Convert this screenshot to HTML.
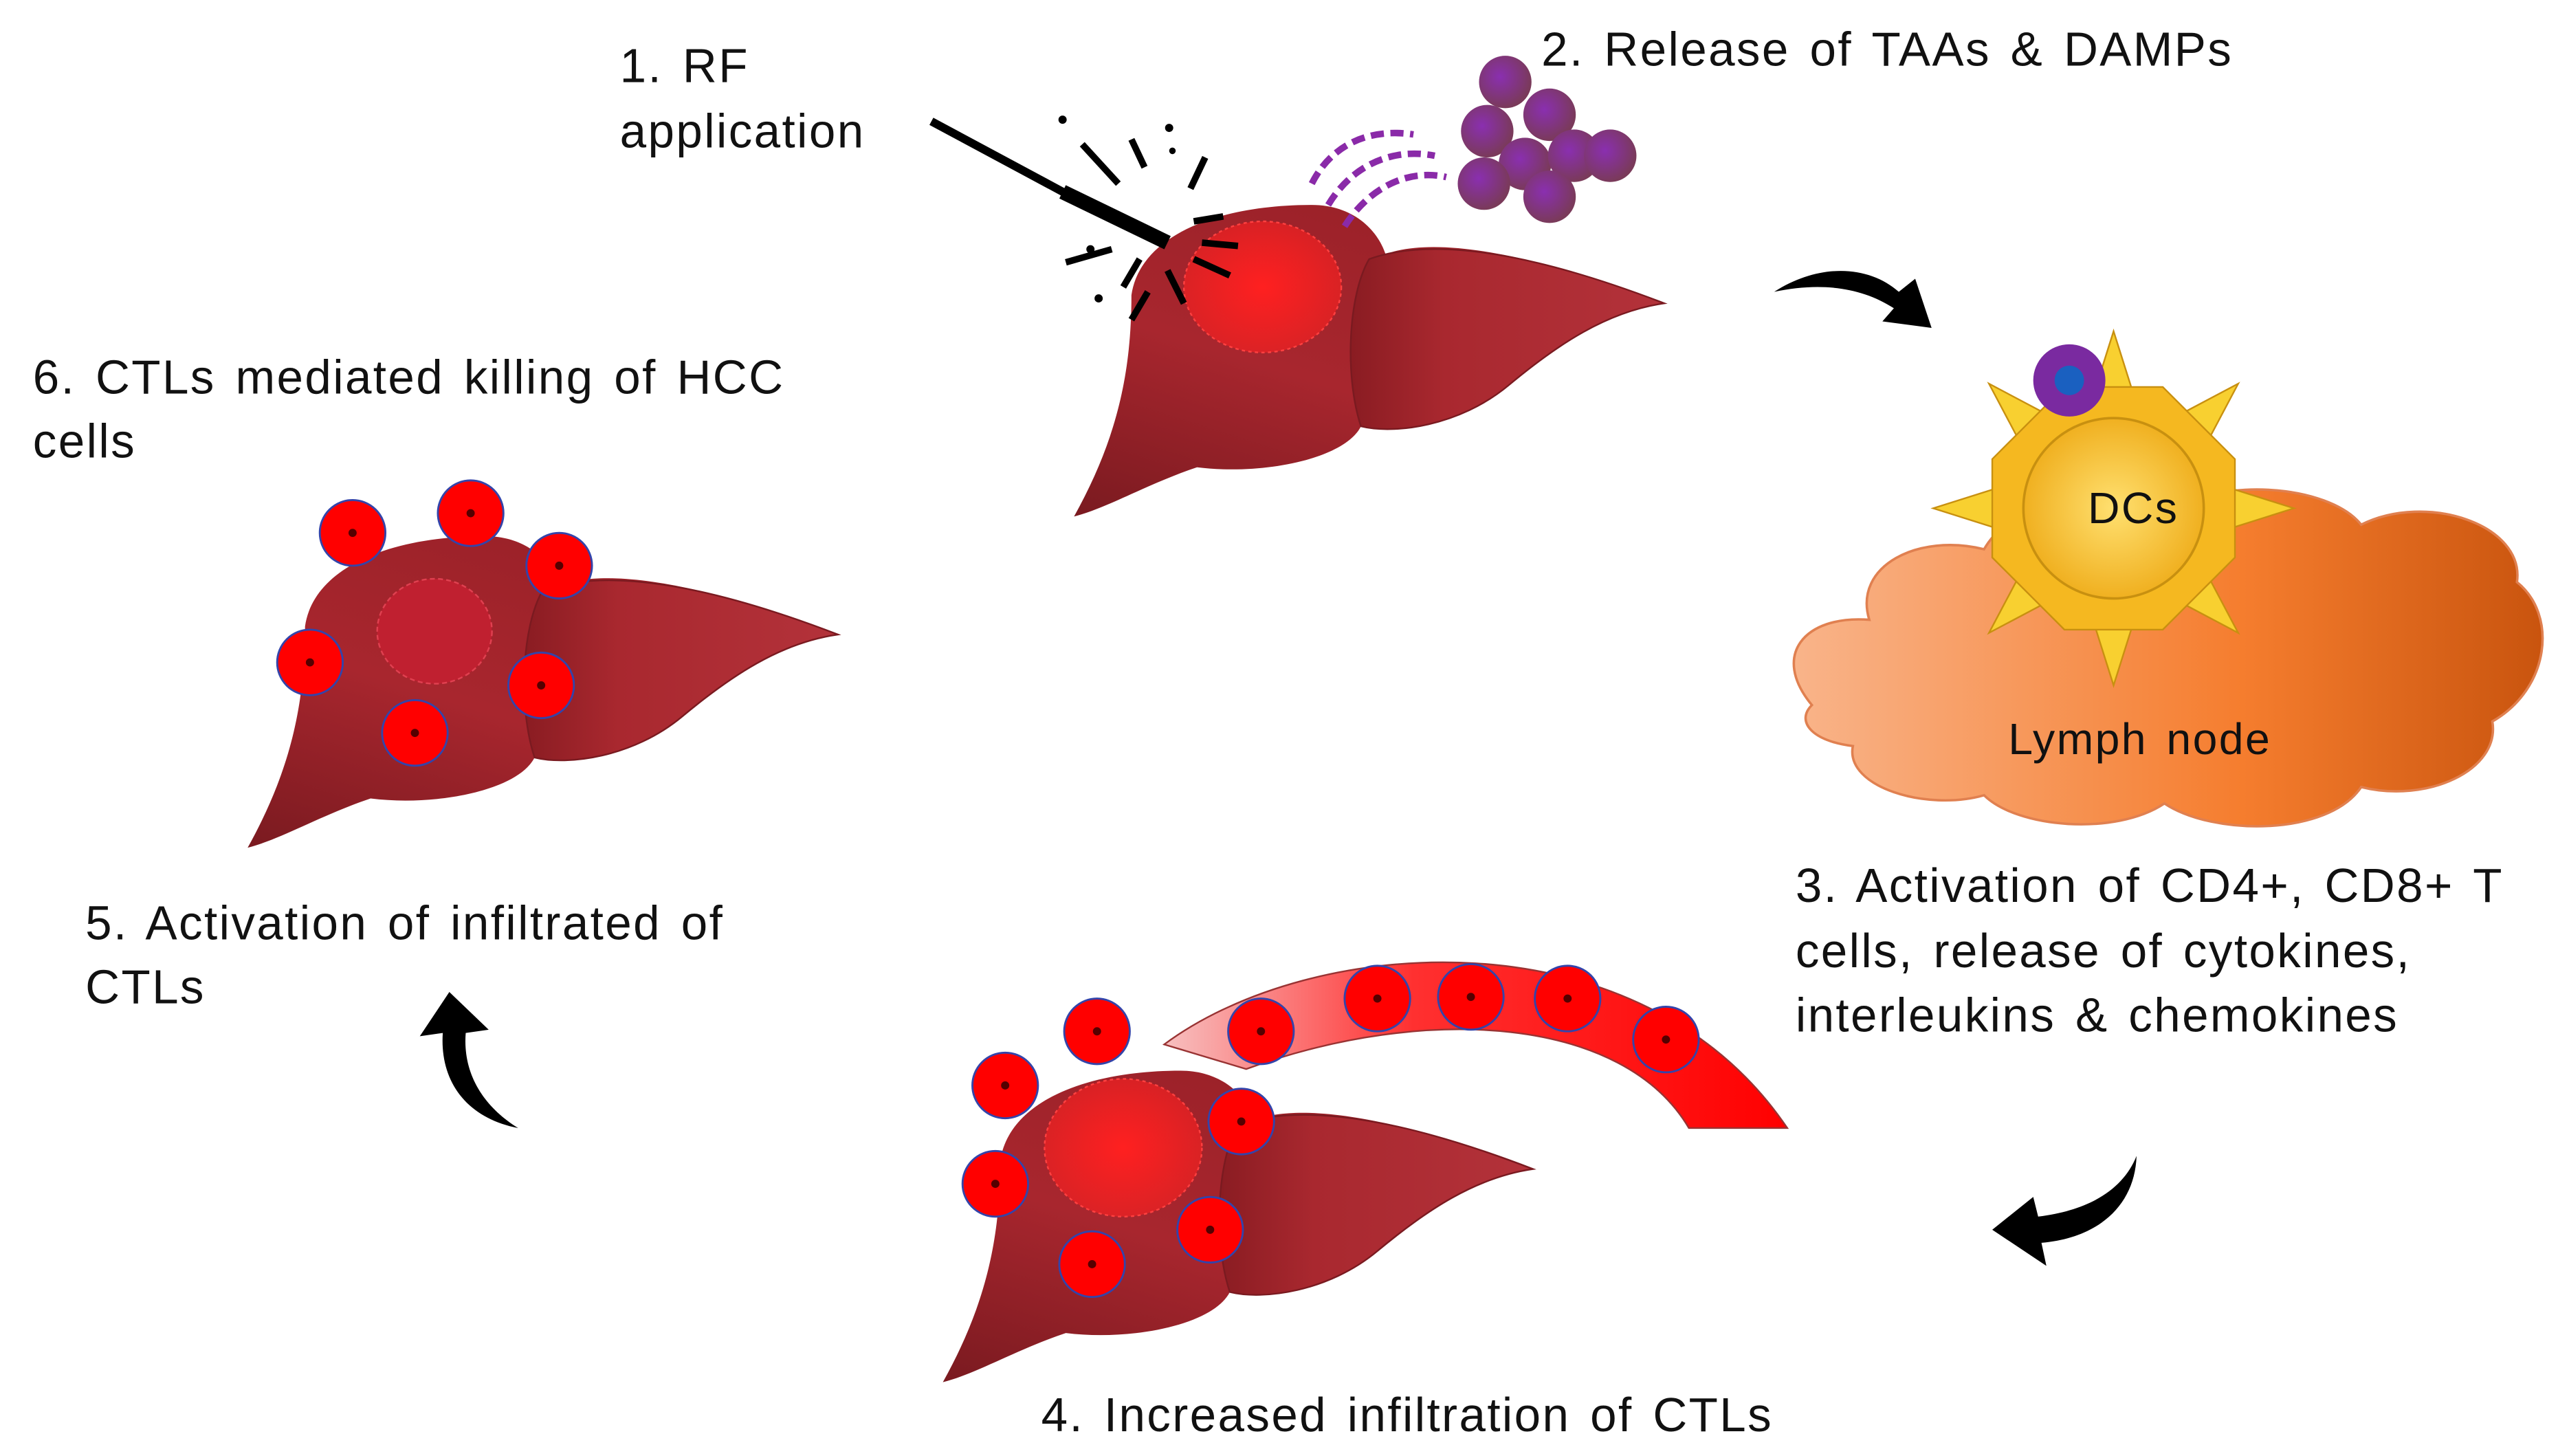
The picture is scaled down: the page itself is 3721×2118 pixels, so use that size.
<!DOCTYPE html>
<html><head><meta charset="utf-8"><style>
html,body{margin:0;padding:0;background:#fff;}
svg{display:block;}
text{font-family:"Liberation Sans",Arial,sans-serif;fill:#111;letter-spacing:1px;word-spacing:3px;}
</style></head><body>
<svg width="3721" height="2118" viewBox="0 0 1560 888" xmlns="http://www.w3.org/2000/svg">
<defs>
<linearGradient id="lv" x1="0" y1="1" x2="0.6" y2="0">
<stop offset="0" stop-color="#7a1a20"/><stop offset="0.5" stop-color="#a8262e"/><stop offset="1" stop-color="#9a2128"/></linearGradient>
<linearGradient id="rl" x1="0" y1="0" x2="1" y2="0">
<stop offset="0" stop-color="#8a1c22"/><stop offset="0.3" stop-color="#a9282f"/><stop offset="1" stop-color="#b3323a"/></linearGradient>
<linearGradient id="cloud" x1="0" y1="0" x2="1" y2="0">
<stop offset="0" stop-color="#f9b48a"/><stop offset="0.6" stop-color="#f57d2e"/><stop offset="1" stop-color="#c9540e"/></linearGradient>
<linearGradient id="ves" x1="0" y1="0" x2="1" y2="0">
<stop offset="0" stop-color="#f7c0c0"/><stop offset="0.4" stop-color="#ff3030"/><stop offset="1" stop-color="#ff0000"/></linearGradient>
<radialGradient id="pc" cx="0.4" cy="0.4" r="0.6">
<stop offset="0" stop-color="#8a2fb0"/><stop offset="1" stop-color="#7a3a5a"/></radialGradient>
<radialGradient id="dcg" cx="0.5" cy="0.5" r="0.5">
<stop offset="0" stop-color="#ffe070"/><stop offset="1" stop-color="#f0b020"/></radialGradient>
<radialGradient id="tum" cx="0.5" cy="0.5" r="0.5">
<stop offset="0" stop-color="#ff2020"/><stop offset="1" stop-color="#ff2020" stop-opacity="0.6"/></radialGradient>
<g id="liver">
<path d="M5,195 C30,150 40,110 40,60 C45,25 90,5 150,5 C175,5 190,20 195,35 C230,22 300,40 365,65 C330,70 300,90 270,115 C240,140 200,145 180,140 C170,160 120,170 80,165 C50,175 25,190 5,195Z" fill="url(#lv)"/>
<path d="M185,38 C230,22 300,40 365,65 C330,70 300,90 270,115 C240,140 200,145 180,140 C170,110 172,60 185,38Z" fill="url(#rl)" stroke="#7a1a20" stroke-width="1"/>
</g>
<g id="cell"><circle r="20" fill="#ff0000" stroke="#3344aa" stroke-width="1.2"/><circle r="2.5" fill="#500"/></g>
</defs>

<use href="#liver" transform="translate(650,120)"/>
<ellipse cx="770" cy="175" rx="48" ry="40" fill="url(#tum)" stroke="#ff4040" stroke-dasharray="2 2"/>
<line x1="568" y1="74" x2="650" y2="118" stroke="#000" stroke-width="5"/>
<line x1="648" y1="117" x2="712" y2="148" stroke="#000" stroke-width="9"/>
<g stroke="#000" stroke-width="4">
<line x1="660" y1="88" x2="682" y2="112"/><line x1="690" y1="85" x2="698" y2="102"/><line x1="735" y1="96" x2="726" y2="115"/>
<line x1="650" y1="160" x2="678" y2="152"/><line x1="685" y1="175" x2="695" y2="158"/><line x1="690" y1="195" x2="700" y2="178"/>
<line x1="712" y1="165" x2="722" y2="185"/><line x1="728" y1="158" x2="750" y2="168"/><line x1="728" y1="135" x2="746" y2="132"/>
<line x1="733" y1="148" x2="755" y2="150"/>
</g>
<g fill="#000"><circle cx="648" cy="73" r="2.5"/><circle cx="713" cy="78" r="2.5"/><circle cx="665" cy="152" r="2.5"/><circle cx="670" cy="182" r="2.5"/><circle cx="715" cy="92" r="2"/></g>
<g fill="none" stroke="#8a2aa8" stroke-width="4" stroke-dasharray="8 4">
<path d="M800,112 C812,88 835,78 862,82"/><path d="M810,125 C825,100 850,90 875,95"/><path d="M820,138 C836,113 860,103 882,108"/>
</g>
<g fill="url(#pc)">
<circle cx="918" cy="50" r="16"/><circle cx="945" cy="70" r="16"/><circle cx="907" cy="80" r="16"/><circle cx="930" cy="100" r="16"/>
<circle cx="960" cy="95" r="16"/><circle cx="982" cy="95" r="16"/><circle cx="905" cy="112" r="16"/><circle cx="945" cy="120" r="16"/>
</g>
<text x="378" y="50" font-size="29">1. RF</text>
<text x="378" y="90" font-size="29">application</text>
<text x="940" y="40" font-size="29">2. Release of TAAs &amp; DAMPs</text>

<path d="M1082,178 C1110,160 1140,162 1158,178 L1168,170 L1178,200 L1148,196 L1155,188 C1135,175 1110,172 1082,178Z" fill="#000"/>
<path d="M1303,705 C1302,735 1280,755 1245,758 L1248,772 L1215,750 L1240,730 L1243,742 C1275,738 1295,725 1303,705Z" fill="#000"/>
<path d="M316,688 C285,682 268,660 270,630 L256,632 L274,605 L298,628 L284,630 C282,655 295,675 316,688Z" fill="#000"/>

<path d="M1105,430 C1080,400 1100,375 1140,378 C1130,345 1170,325 1210,335 C1230,300 1290,300 1320,315 C1350,290 1420,295 1440,320 C1480,300 1540,320 1535,355 C1560,375 1555,420 1520,440 C1525,470 1480,490 1440,480 C1420,510 1350,510 1320,490 C1290,510 1230,505 1210,485 C1175,495 1125,480 1130,455 C1105,452 1095,440 1105,430Z" fill="url(#cloud)" stroke="#e08050" stroke-width="1.5"/>
<g transform="translate(1289,310)">
<g fill="#f8d030" stroke="#c89010" stroke-width="1">
<polygon points="0,-108 12,-70 -12,-70"/><polygon points="0,108 12,70 -12,70"/>
<polygon points="-110,0 -72,-12 -72,12"/><polygon points="110,0 72,-12 72,12"/>
<polygon points="-76,-76 -58,-42 -42,-58"/><polygon points="76,-76 58,-42 42,-58"/>
<polygon points="-76,76 -58,42 -42,58"/><polygon points="76,76 58,42 42,58"/>
</g>
<polygon points="-30,-74 30,-74 74,-30 74,30 30,74 -30,74 -74,30 -74,-30" fill="#f5b820" stroke="#c89010"/>
<circle r="55" fill="url(#dcg)" stroke="#c89010" stroke-width="1.5"/>
<text x="12" y="9" font-size="27" text-anchor="middle">DCs</text>
</g>
<circle cx="1262" cy="232" r="22" fill="#7a2aa0"/><circle cx="1262" cy="232" r="9" fill="#1a60c0"/>
<text x="1305" y="460" font-size="27" text-anchor="middle">Lymph node</text>
<text x="1095" y="550" font-size="29">3. Activation of CD4+, CD8+ T</text>
<text x="1095" y="590" font-size="29">cells, release of cytokines,</text>
<text x="1095" y="629" font-size="29">interleukins &amp; chemokines</text>

<use href="#liver" transform="translate(146,322)"/>
<ellipse cx="265" cy="385" rx="35" ry="32" fill="#c02030" stroke="#e04050" stroke-dasharray="3 2"/>
<use href="#cell" x="215" y="325"/><use href="#cell" x="287" y="313"/><use href="#cell" x="341" y="345"/>
<use href="#cell" x="189" y="404"/><use href="#cell" x="330" y="418"/><use href="#cell" x="253" y="447"/>
<text x="20" y="240" font-size="29">6. CTLs mediated killing of HCC</text>
<text x="20" y="279" font-size="29">cells</text>
<text x="52" y="573" font-size="29">5. Activation of infiltrated of</text>
<text x="52" y="612" font-size="29">CTLs</text>

<use href="#liver" transform="translate(570,648)"/>
<ellipse cx="685" cy="700" rx="48" ry="42" fill="url(#tum)" stroke="#ff4040" stroke-dasharray="2 2"/>
<path d="M710,637 C800,570 1000,555 1090,688 L1030,688 C990,620 870,612 760,652 Z" fill="url(#ves)" stroke="#993333" stroke-width="1"/>
<use href="#cell" x="769" y="629"/><use href="#cell" x="840" y="609"/><use href="#cell" x="897" y="608"/>
<use href="#cell" x="956" y="609"/><use href="#cell" x="1016" y="634"/>
<use href="#cell" x="669" y="629"/><use href="#cell" x="613" y="662"/><use href="#cell" x="757" y="684"/>
<use href="#cell" x="607" y="722"/><use href="#cell" x="738" y="750"/><use href="#cell" x="666" y="771"/>
<text x="635" y="873" font-size="29">4. Increased infiltration of CTLs</text>
</svg>
</body></html>
